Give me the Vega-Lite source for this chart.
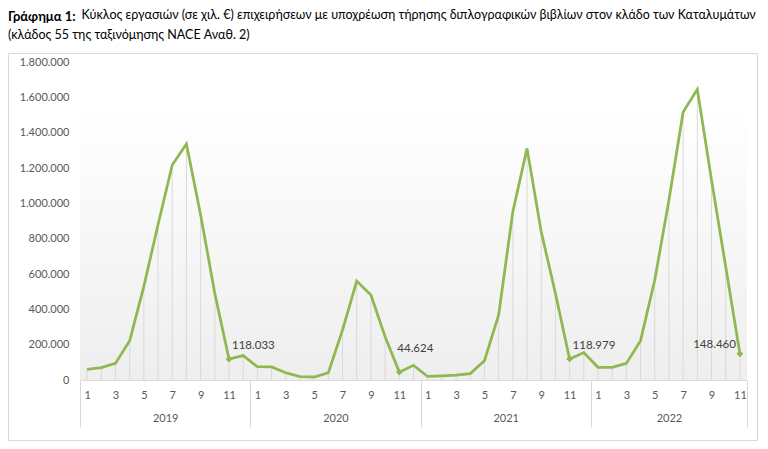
{
  "$schema": "https://vega.github.io/schema/vega-lite/v6.json",
  "width": 749,
  "height": 387,
  "autosize": "none",
  "padding": {"left": 8, "top": 53, "right": 11, "bottom": 9},
  "background": "#ffffff",
  "config": {
    "locale": {"number": {"decimal": ",", "thousands": ".", "grouping": [3], "currency": ["", " €"]}},
    "view": {"stroke": "#d9d9d9", "strokeWidth": 1, "fill": "#ffffff"},
    "axis": {"labelFont": "Lato", "labelFontSize": 11, "labelColor": "#595959", "grid": false}
  },
  "title": {
    "text": "Γράφημα 1:",
    "subtitle": ["\u200b\u00a0\u00a0\u00a0\u00a0\u00a0\u00a0\u00a0\u00a0\u00a0\u00a0\u00a0\u00a0\u00a0\u00a0\u00a0\u00a0\u00a0\u00a0\u00a0\u00a0\u00a0\u00a0\u00a0Κύκλος εργασιών (σε χιλ. €) επιχειρήσεων με υποχρέωση τήρησης διπλογραφικών βιβλίων στον κλάδο των Καταλυμάτων", "(κλάδος 55 της ταξινόμησης NACE Αναθ. 2)"],
    "anchor": "start",
    "frame": "group",
    "font": "Lato",
    "fontSize": 13,
    "fontWeight": "bold",
    "color": "#000000",
    "subtitleFont": "Lato",
    "subtitleFontSize": 12.5,
    "subtitleColor": "#000000",
    "subtitleLineHeight": 20,
    "subtitlePadding": -15,
    "offset": 10
  },
  "data": {
    "values": [
      {"i": 0, "year": 2019, "month": 1, "v": 60000},
      {"i": 1, "year": 2019, "month": 2, "v": 70000},
      {"i": 2, "year": 2019, "month": 3, "v": 94000},
      {"i": 3, "year": 2019, "month": 4, "v": 222000},
      {"i": 4, "year": 2019, "month": 5, "v": 530000},
      {"i": 5, "year": 2019, "month": 6, "v": 880000},
      {"i": 6, "year": 2019, "month": 7, "v": 1217000},
      {"i": 7, "year": 2019, "month": 8, "v": 1336000},
      {"i": 8, "year": 2019, "month": 9, "v": 934000},
      {"i": 9, "year": 2019, "month": 10, "v": 490000},
      {"i": 10, "year": 2019, "month": 11, "v": 118033},
      {"i": 11, "year": 2019, "month": 12, "v": 138000},
      {"i": 12, "year": 2020, "month": 1, "v": 75000},
      {"i": 13, "year": 2020, "month": 2, "v": 74000},
      {"i": 14, "year": 2020, "month": 3, "v": 41000},
      {"i": 15, "year": 2020, "month": 4, "v": 19000},
      {"i": 16, "year": 2020, "month": 5, "v": 17000},
      {"i": 17, "year": 2020, "month": 6, "v": 41000},
      {"i": 18, "year": 2020, "month": 7, "v": 283000},
      {"i": 19, "year": 2020, "month": 8, "v": 560000},
      {"i": 20, "year": 2020, "month": 9, "v": 481000},
      {"i": 21, "year": 2020, "month": 10, "v": 245000},
      {"i": 22, "year": 2020, "month": 11, "v": 44624},
      {"i": 23, "year": 2020, "month": 12, "v": 83000},
      {"i": 24, "year": 2021, "month": 1, "v": 20000},
      {"i": 25, "year": 2021, "month": 2, "v": 24000},
      {"i": 26, "year": 2021, "month": 3, "v": 28000},
      {"i": 27, "year": 2021, "month": 4, "v": 36000},
      {"i": 28, "year": 2021, "month": 5, "v": 109000},
      {"i": 29, "year": 2021, "month": 6, "v": 368000},
      {"i": 30, "year": 2021, "month": 7, "v": 953000},
      {"i": 31, "year": 2021, "month": 8, "v": 1311000},
      {"i": 32, "year": 2021, "month": 9, "v": 839000},
      {"i": 33, "year": 2021, "month": 10, "v": 490000},
      {"i": 34, "year": 2021, "month": 11, "v": 118979},
      {"i": 35, "year": 2021, "month": 12, "v": 155000},
      {"i": 36, "year": 2022, "month": 1, "v": 72000},
      {"i": 37, "year": 2022, "month": 2, "v": 72000},
      {"i": 38, "year": 2022, "month": 3, "v": 94000},
      {"i": 39, "year": 2022, "month": 4, "v": 223000},
      {"i": 40, "year": 2022, "month": 5, "v": 566000},
      {"i": 41, "year": 2022, "month": 6, "v": 1019000},
      {"i": 42, "year": 2022, "month": 7, "v": 1517000},
      {"i": 43, "year": 2022, "month": 8, "v": 1645000},
      {"i": 44, "year": 2022, "month": 9, "v": 1132000},
      {"i": 45, "year": 2022, "month": 10, "v": 641000},
      {"i": 46, "year": 2022, "month": 11, "v": 148460}
    ]
  },
  "encoding": {
    "x": {"field": "i", "type": "quantitative",
      "scale": {"domain": [-0.5, 46.5], "range": [72, 739], "nice": false, "zero": false},
      "axis": {"title": null, "orient": "bottom", "offset": -60,
        "values": [-0.5, 0, 2, 4, 5.5, 6, 8, 10, 11.5, 12, 14, 16, 17.5, 18, 20, 22, 23.5, 24, 26, 28, 29.5, 30, 32, 34, 35.5, 36, 38, 40, 41, 42, 44, 46, 46.5],
        "labelExpr": "((datum.value + 0.5) % 12 == 0 || datum.value == 46.5) ? '' : (datum.value == 5.5 || datum.value == 17.5 || datum.value == 29.5 || datum.value == 41) ? ['', '' + (2019 + floor(datum.value / 12))] : '' + ((datum.value % 12) + 1)",
        "labelBaseline": "top", "labelLineHeight": 23, "labelPadding": -38, "labelOverlap": false, "labelFlush": false,
        "ticks": true, "tickSize": 47, "tickColor": "#d9d9d9",
        "tickOpacity": {"condition": {"test": "(datum.value + 0.5) % 12 == 0 || datum.value == 46.5", "value": 1}, "value": 0},
        "domain": true, "domainColor": "#d9d9d9"}
    },
    "y": {"field": "v", "type": "quantitative",
      "scale": {"domain": [0, 1800000], "range": [327, 9], "nice": false},
      "axis": {"title": null, "values": [0, 200000, 400000, 600000, 800000, 1000000, 1200000, 1400000, 1600000, 1800000], "labelExpr": "format(datum.value, ',')", "domain": false, "ticks": false, "labelPadding": 0, "offset": -61}
    }
  },
  "layer": [
    {
      "mark": {"type": "rect", "fill": {"gradient": "linear", "x1": 0, "y1": 0, "x2": 0, "y2": 1, "stops": [{"offset": 0, "color": "#ffffff"}, {"offset": 1, "color": "#eeeeee"}]}},
      "transform": [{"filter": "datum.i == 0"}],
      "encoding": {
        "x": {"datum": -0.5, "type": "quantitative"},
        "x2": {"datum": 46.5},
        "y": {"datum": 0, "type": "quantitative"},
        "y2": {"datum": 1550000}
      }
    },
    {
      "mark": {"type": "rule", "color": "#d9d9d9", "strokeWidth": 1},
      "encoding": {
        "y": {"datum": 0, "type": "quantitative"},
        "y2": {"field": "v"}
      }
    },
    {
      "mark": {"type": "line", "color": "#8FB851", "strokeWidth": 2.75},
      "encoding": {}
    },
    {
      "mark": {"type": "point", "shape": "diamond", "filled": true, "color": "#8FB851", "size": 45, "opacity": 1},
      "transform": [{"filter": "datum.month == 11"}],
      "encoding": {}
    },
    {
      "mark": {"type": "text", "font": "Lato", "fontSize": 11.5, "color": "#404040", "align": "left", "dx": 3, "dy": -13},
      "transform": [{"filter": "datum.month == 11 && (datum.year == 2019 || datum.year == 2021)"}],
      "encoding": {"text": {"field": "v", "type": "quantitative", "format": ","}}
    },
    {
      "mark": {"type": "text", "font": "Lato", "fontSize": 11.5, "color": "#404040", "align": "left", "dx": -2, "dy": -23},
      "transform": [{"filter": "datum.month == 11 && datum.year == 2020"}],
      "encoding": {"text": {"field": "v", "type": "quantitative", "format": ","}}
    },
    {
      "mark": {"type": "text", "font": "Lato", "fontSize": 11.5, "color": "#404040", "align": "right", "dx": -4, "dy": -9},
      "transform": [{"filter": "datum.month == 11 && datum.year == 2022"}],
      "encoding": {"text": {"field": "v", "type": "quantitative", "format": ","}}
    }
  ]
}
